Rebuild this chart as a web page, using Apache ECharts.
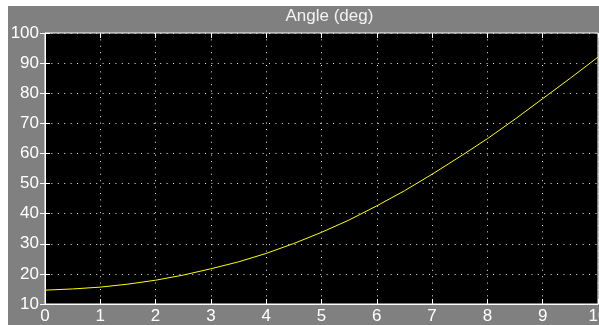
<!DOCTYPE html>
<html>
<head>
<meta charset="utf-8">
<script src="https://cdn.jsdelivr.net/npm/echarts@6/dist/echarts.min.js"></script>
<style>
  html, body { margin: 0; padding: 0; background: #ffffff; }
  #wrap { position: relative; width: 599px; height: 325px; background: #ffffff; overflow: hidden; }
  #chart { position: absolute; left: 8px; top: 6px; width: 591px; height: 319px; background: #808080; }
</style>
</head>
<body>
<div id="wrap"><div id="chart"></div></div>
<script>
// Data (time in s, angle in deg)
const times = [0, 0.5, 1, 1.5, 2, 2.5, 3, 3.5, 4, 4.5, 5, 5.5, 6, 6.5, 7, 7.5, 8, 8.5, 9, 9.5, 10];
const angles = [14.6, 15.0, 15.6, 16.6, 17.9, 19.6, 21.7, 24.0, 26.8, 30.1, 33.8, 37.9, 42.6, 47.6, 53.1, 58.9, 64.9, 71.4, 78.2, 85.0, 92.0];
const xTicks = [0, 1, 2, 3, 4, 5, 6, 7, 8, 9, 10];
const yTicks = [10, 20, 30, 40, 50, 60, 70, 80, 90, 100];
const titleText = 'Angle (deg)';

const FONT = "'Liberation Sans Narrow', 'Liberation Sans', Arial, sans-serif";
const chart = echarts.init(document.getElementById('chart'), null, { renderer: 'canvas' });

const gridLeft = 37, gridTop = 27, gridRight = 1, gridBottom = 21;
const plotW = 591 - gridLeft - gridRight;

const dotted = { color: '#e8e8e8', width: 1, type: [1, 5.4] };
const tick = { show: true, inside: true, length: 5, lineStyle: { color: '#ffffff', width: 1 } };

chart.setOption({
  animation: false,
  backgroundColor: '#808080',
  graphic: [{
    type: 'text',
    left: gridLeft + plotW / 2 - 36,
    top: 2,
    style: { text: titleText, fill: '#f2f2f2', font: '17px ' + FONT }
  }],
  grid: {
    left: gridLeft, top: gridTop, right: gridRight, bottom: gridBottom,
    outerBoundsMode: 'none', containLabel: false,
    show: true, backgroundColor: '#000000', borderColor: '#ffffff', borderWidth: 1
  },
  xAxis: [{
    type: 'value', position: 'bottom', min: xTicks[0], max: xTicks[xTicks.length - 1], interval: 1,
    axisLine: { show: true, lineStyle: { color: '#ffffff', width: 1 } },
    axisTick: tick,
    axisLabel: { color: '#ffffff', fontSize: 17, fontFamily: FONT, margin: 4, showMaxLabel: true, showMinLabel: true, hideOverlap: false },
    splitLine: { show: true, lineStyle: dotted }
  }, {
    type: 'value', position: 'top', min: xTicks[0], max: xTicks[xTicks.length - 1], interval: 1,
    axisLine: { show: false }, axisTick: tick, axisLabel: { show: false }, splitLine: { show: false }
  }],
  yAxis: [{
    type: 'value', position: 'left', min: yTicks[0], max: yTicks[yTicks.length - 1], interval: 10,
    axisLine: { show: true, lineStyle: { color: '#ffffff', width: 1 } },
    axisTick: tick,
    axisLabel: { color: '#ffffff', fontSize: 17, fontFamily: FONT, margin: 6 },
    splitLine: { show: true, lineStyle: dotted }
  }, {
    type: 'value', position: 'right', min: yTicks[0], max: yTicks[yTicks.length - 1], interval: 10,
    axisLine: { show: false }, axisTick: tick, axisLabel: { show: false }, splitLine: { show: false }
  }],
  series: [{
    type: 'line',
    data: times.map((t, i) => [t, angles[i]]),
    showSymbol: false,
    smooth: false,
    lineStyle: { color: '#ffff00', width: 1 },
    clip: true
  }]
});
</script>
</body>
</html>
